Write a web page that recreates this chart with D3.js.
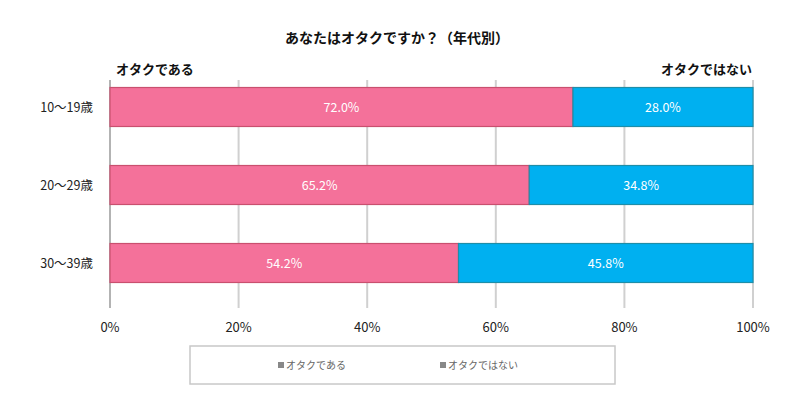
<!DOCTYPE html>
<html><head><meta charset="utf-8">
<script src="https://d3js.org/d3.v7.min.js"></script>
<style>body{margin:0;background:#fff;} text{font-family:"Noto Sans CJK JP","Noto Sans",sans-serif;}</style>
</head><body><svg id="c" width="800" height="413"></svg>
<script>
const categories = ["10～19歳", "20～29歳", "30～39歳"];
const seriesNames = ["オタクである", "オタクではない"];
const otaku = [72.0, 65.2, 54.2];
const notOtaku = [28.0, 34.8, 45.8];
const tickValues = [0, 20, 40, 60, 80, 100];
const colors = ["#F4719A", "#00B0F0"];
const strokes = ["#C9506F", "#1E8EA8"];

const svg = d3.select("#c");
const x = d3.scaleLinear().domain([0, 100]).range([110, 753]);
const y = d3.scaleBand().domain(categories).range([68, 302]).paddingInner(0.5).paddingOuter(0.25);

// grid
svg.append("g").selectAll("line").data(tickValues).join("line")
  .attr("x1", d => x(d)).attr("x2", d => x(d)).attr("y1", 80).attr("y2", 308)
  .attr("stroke", d => d === 0 ? "#9a9a9a" : "#d0d0d0").attr("stroke-width", d => d === 0 ? 1.5 : 2);

const rows = categories.map((c, i) => ({c, vals: [otaku[i], notOtaku[i]]}));
rows.forEach(r => {
  let acc = 0;
  r.vals.forEach((v, j) => {
    const x0 = x(acc), x1 = x(acc + v);
    svg.append("rect").attr("x", x0).attr("y", y(r.c)).attr("width", x1 - x0).attr("height", y.bandwidth())
      .attr("fill", colors[j]).attr("stroke", strokes[j]).attr("stroke-width", 1.2);
    svg.append("text").attr("x", (x0 + x1) / 2).attr("y", y(r.c) + y.bandwidth() / 2 + 4.5)
      .attr("text-anchor", "middle").attr("fill", "#fff").attr("font-size", 12.5)
      .text(v.toFixed(1) + "%");
    acc += v;
  });
});

// category labels
svg.append("g").selectAll("text").data(categories).join("text")
  .attr("x", 93).attr("y", d => y(d) + y.bandwidth() / 2 + 5)
  .attr("text-anchor", "end").attr("font-size", 12.5).attr("fill", "#222").text(d => d);

// x axis labels
svg.append("g").selectAll("text").data(tickValues).join("text")
  .attr("x", d => x(d)).attr("y", 332).attr("text-anchor", "middle")
  .attr("font-size", 13).attr("fill", "#222").text(d => d + "%");

// title
svg.append("text").attr("x", 397).attr("y", 43).attr("text-anchor", "middle")
  .attr("font-size", 14).attr("font-weight", "bold").attr("fill", "#111").text("あなたはオタクですか？（年代別）");
svg.append("text").attr("x", 116).attr("y", 74).attr("font-size", 13).attr("font-weight", "bold").attr("fill", "#111").text(seriesNames[0]);
svg.append("text").attr("x", 752).attr("y", 74).attr("text-anchor", "end").attr("font-size", 13).attr("font-weight", "bold").attr("fill", "#111").text(seriesNames[1]);

// legend
svg.append("rect").attr("x", 190).attr("y", 346).attr("width", 425).attr("height", 38)
  .attr("fill", "#fff").attr("stroke", "#c8c8c8").attr("stroke-width", 1.5);
const lx = [278, 440];
seriesNames.forEach((s, i) => {
  svg.append("rect").attr("x", lx[i]).attr("y", 362).attr("width", 6).attr("height", 6).attr("fill", "#888");
  svg.append("text").attr("x", lx[i] + 8).attr("y", 369).attr("font-size", 10).attr("fill", "#666").text(s);
});
</script></body></html>
